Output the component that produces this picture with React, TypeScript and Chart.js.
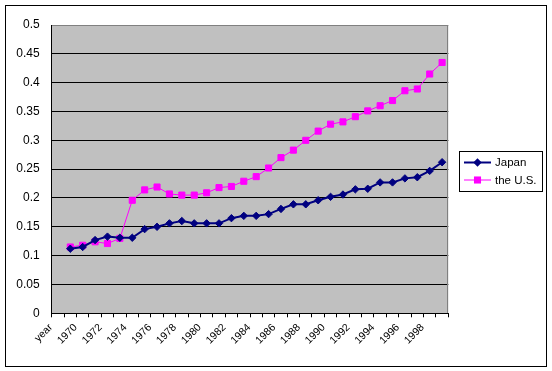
import { useEffect, useRef } from "react";
import { Chart, registerables } from "chart.js";

Chart.register(...registerables);

const categories = [
  "year", "1969", "1970", "1971", "1972", "1973", "1974", "1975", "1976", "1977", "1978",
  "1979", "1980", "1981", "1982", "1983", "1984", "1985", "1986", "1987", "1988",
  "1989", "1990", "1991", "1992", "1993", "1994", "1995", "1996", "1997", "1998", "1999",
];

const japan = [
  null, 0.112, 0.115, 0.127, 0.133, 0.131, 0.131, 0.146, 0.150, 0.156, 0.160,
  0.156, 0.156, 0.156, 0.165, 0.169, 0.169, 0.172, 0.181, 0.189, 0.189,
  0.196, 0.202, 0.206, 0.215, 0.216, 0.227, 0.227, 0.234, 0.236, 0.247, 0.262,
];

const us = [
  null, 0.115, 0.118, 0.124, 0.121, 0.130, 0.196, 0.214, 0.219, 0.207, 0.205,
  0.205, 0.209, 0.218, 0.220, 0.229, 0.237, 0.252, 0.270, 0.283, 0.300,
  0.316, 0.328, 0.332, 0.341, 0.351, 0.360, 0.369, 0.386, 0.389, 0.415, 0.435,
];

const seriesNames = ["Japan", "the U.S."];
const yMin = 0;
const yMax = 0.5;
const yStep = 0.05;

const FONT = "'Liberation Sans', Arial, sans-serif";

const framePlugin = {
  id: "frame",
  beforeDraw(chart: any) {
    const { ctx, chartArea } = chart;
    ctx.save();
    ctx.fillStyle = "#ffffff";
    ctx.fillRect(0, 0, chart.width, chart.height);
    ctx.fillStyle = "#c0c0c0";
    ctx.fillRect(chartArea.left, chartArea.top, chartArea.right - chartArea.left, chartArea.bottom - chartArea.top);
    ctx.restore();
  },
  beforeDatasetsDraw(chart: any) {
    const { ctx, chartArea } = chart;
    ctx.save();
    ctx.strokeStyle = "#808080";
    ctx.lineWidth = 1;
    const r = Math.round(chartArea.right) - 0.5;
    ctx.beginPath();
    ctx.moveTo(r, Math.round(chartArea.top));
    ctx.lineTo(r, Math.round(chartArea.bottom));
    ctx.stroke();
    ctx.restore();
  },
  afterDraw(chart: any) {
    const { ctx } = chart;
    ctx.save();
    ctx.strokeStyle = "#000000";
    ctx.lineWidth = 1;
    ctx.strokeRect(5.5, 5.5, 541, 361);

    // legend box
    ctx.strokeRect(459.5, 151.5, 83, 40);
    const rows = [162.5, 180];
    chart.data.datasets.forEach((ds: any, i: number) => {
      const y = rows[i];
      ctx.strokeStyle = ds.borderColor;
      ctx.lineWidth = ds.borderWidth;
      ctx.beginPath();
      ctx.moveTo(464, y);
      ctx.lineTo(491, y);
      ctx.stroke();
      ctx.fillStyle = ds.pointBackgroundColor;
      ctx.beginPath();
      const cx = 477.5;
      if (ds.pointStyle === "rectRot") {
        const r = ds.pointRadius + 0.5;
        ctx.moveTo(cx - r, y);
        ctx.lineTo(cx, y - r);
        ctx.lineTo(cx + r, y);
        ctx.lineTo(cx, y + r);
        ctx.closePath();
      } else {
        const s = ds.pointRadius * Math.SQRT1_2 + 0.5;
        ctx.rect(cx - s, y - s, 2 * s, 2 * s);
      }
      ctx.fill();
      ctx.fillStyle = "#000000";
      ctx.font = `11.5px ${FONT}`;
      ctx.textBaseline = "middle";
      ctx.textAlign = "left";
      ctx.fillText(ds.label, 495, y + 0.5);
    });
    ctx.restore();
  },
};

export default function App() {
  const ref = useRef<HTMLCanvasElement | null>(null);

  useEffect(() => {
    if (!ref.current) return;
    const chart = new Chart(ref.current, {
      type: "line",
      data: {
        labels: categories,
        datasets: [
          {
            label: seriesNames[0],
            data: japan,
            borderColor: "#000080",
            backgroundColor: "#000080",
            pointBackgroundColor: "#000080",
            pointBorderColor: "#000080",
            borderWidth: 2,
            pointStyle: "rectRot",
            pointRadius: 3.7,
            pointBorderWidth: 1,
            tension: 0,
          },
          {
            label: seriesNames[1],
            data: us,
            borderColor: "#ff00ff",
            backgroundColor: "#ff00ff",
            pointBackgroundColor: "#ff00ff",
            pointBorderColor: "#ff00ff",
            borderWidth: 1,
            pointStyle: "rect",
            pointRadius: 4.3,
            pointBorderWidth: 1,
            tension: 0,
          },
        ],
      },
      options: {
        responsive: false,
        animation: false,
        layout: { padding: { left: 0, top: 25, right: 103.7, bottom: 0 } },
        plugins: {
          legend: { display: false },
          tooltip: { enabled: false },
        },
        scales: {
          x: {
            type: "category",
            offset: true,
            afterFit: (scale: any) => {
              scale.height = 57.7;
            },
            grid: {
              offset: true,
              drawOnChartArea: false,
              drawTicks: true,
              tickLength: 4,
              color: "#000000",
            },
            border: { display: true, color: "#000000", width: 1 },
            ticks: {
              autoSkip: false,
              minRotation: 45,
              maxRotation: 45,
              padding: 4,
              labelOffset: -7,
              color: "#000000",
              font: { family: FONT, size: 10.5 },
              callback: (_v: any, i: number) => (i % 2 === 0 ? categories[i] : ""),
            },
          },
          y: {
            min: yMin,
            max: yMax,
            afterFit: (scale: any) => {
              scale.width = 51.7;
            },
            grid: {
              drawTicks: false,
              color: (c: any) => (c.tick && Math.abs(c.tick.value - yMax) < 1e-9 ? "#808080" : "#000000"),
            },
            border: { display: true, color: "#000000", width: 1 },
            ticks: {
              stepSize: yStep,
              padding: 12,
              color: "#000000",
              font: { family: FONT, size: 12 },
              callback: (v: any) => String(parseFloat(Number(v).toFixed(2))),
            },
          },
        },
      },
      plugins: [framePlugin],
    });
    return () => chart.destroy();
  }, []);

  return (
    <div style={{ position: "fixed", left: 0, top: 0, width: 552, height: 371, background: "#fff" }}>
      <canvas ref={ref} width={552} height={371} style={{ display: "block" }} />
    </div>
  );
}
